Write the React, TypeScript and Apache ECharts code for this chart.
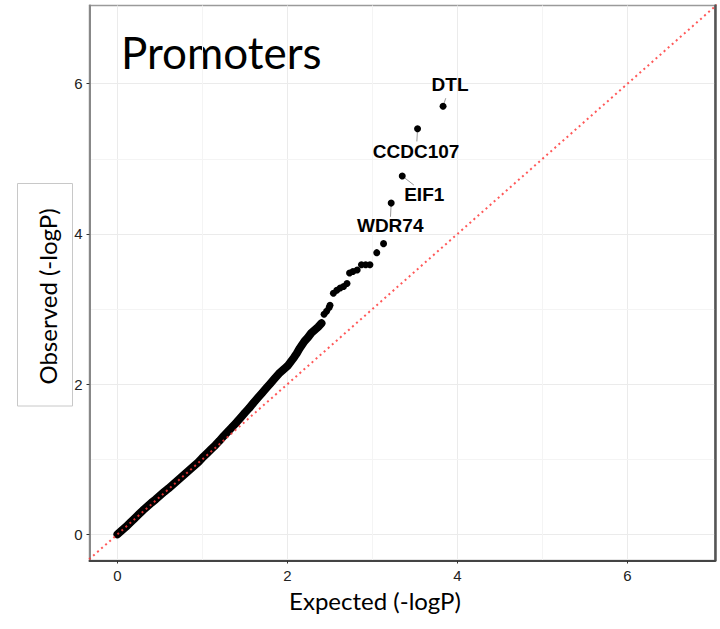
import React, { useEffect, useRef } from "react";
import * as echarts from "echarts";

// Expected vs observed -log10(P)
const expected = [
  0.0, 0.05, 0.1, 0.15, 0.2, 0.25, 0.3, 0.35, 0.4, 0.45, 0.5, 0.55, 0.6, 0.65, 0.7, 0.75,
  0.8, 0.85, 0.9, 0.95, 1.0, 1.05, 1.1, 1.15, 1.2, 1.25, 1.3, 1.35, 1.4, 1.45, 1.5, 1.55,
  1.6, 1.65, 1.7, 1.75, 1.8, 1.85, 1.9, 1.95, 2.0, 2.04, 2.08, 2.11, 2.14, 2.17, 2.2, 2.24,
  2.28, 2.32, 2.36, 2.4, 2.43, 2.46, 2.49, 2.5, 2.54, 2.58, 2.62, 2.66, 2.7, 2.73, 2.77,
  2.82, 2.87, 2.92, 2.97, 3.05, 3.13,
];
const observed = [
  0.0, 0.05, 0.1, 0.155, 0.21, 0.265, 0.32, 0.37, 0.42, 0.465, 0.515, 0.565, 0.61, 0.66,
  0.71, 0.76, 0.81, 0.86, 0.91, 0.96, 1.02, 1.075, 1.13, 1.185, 1.245, 1.31, 1.37, 1.43,
  1.49, 1.555, 1.62, 1.68, 1.75, 1.815, 1.88, 1.945, 2.01, 2.075, 2.14, 2.19, 2.24, 2.3,
  2.36, 2.41, 2.47, 2.52, 2.57, 2.62, 2.68, 2.72, 2.76, 2.81, 2.93, 2.97, 3.02, 3.05, 3.21,
  3.25, 3.28, 3.3, 3.34, 3.48, 3.5, 3.52, 3.59, 3.59, 3.59, 3.75, 3.87,
];
// the first points overlap into one continuous band (up to expected = 2.40)
const denseBandCount = 52;

// Labelled top hits
const labeledGenes = ["DTL", "CCDC107", "EIF1", "WDR74"];
const labeledExpected = [3.83, 3.53, 3.35, 3.22];
const labeledObserved = [5.7, 5.4, 4.77, 4.41];

// Axes
const majorTicks = [0, 2, 4, 6];
const minorTicks = [1, 3, 5];
const xRange = [-0.329, 7.029];
const yRange = [-0.349, 7.041];
const refLineEnds = [-1, 8];

const titleText = "Promoters";
const xTitle = "Expected (-logP)";
const yTitle = "Observed (-logP)";

// label placement (px, relative to the point), like ggrepel
const labelOffsets: [number, number][] = [
  [7, -21.5],
  [-1.4, 23],
  [22, 18],
  [-1, 22.5],
];
const segmentEnds: [number, number][] = [
  [2.7, -8],
  [-0.7, 12.7],
  [11.6, 9],
  [-0.7, 13.7],
];

export default function App() {
  const ref = useRef<HTMLDivElement>(null);

  useEffect(() => {
    if (!ref.current) return;
    const chart = echarts.init(ref.current, null, { renderer: "svg" });

    const mainData = expected.map((e, i) => [e, observed[i]]);
    const bandData = mainData.slice(0, denseBandCount);
    const labeledData = labeledGenes.map((g, i) => [labeledExpected[i], labeledObserved[i]]);

    const gridMarkData: any[] = [];
    majorTicks.forEach((v) => {
      gridMarkData.push({ xAxis: v, lineStyle: { color: "#ebebeb" } });
      gridMarkData.push({ yAxis: v, lineStyle: { color: "#ebebeb" } });
    });
    minorTicks.forEach((v) => {
      gridMarkData.push({ xAxis: v, lineStyle: { color: "#f4f4f4" } });
      gridMarkData.push({ yAxis: v, lineStyle: { color: "#f4f4f4" } });
    });

    const tickLabel = {
      color: "#222",
      fontFamily: "Liberation Sans",
      fontSize: 15,
    };

    const option: any = {
      animation: false,
      backgroundColor: "#ffffff",
      grid: {
        left: 89.5,
        right: 5,
        top: 5.5,
        bottom: 68.5,
        show: true,
        borderColor: "#9a9a9a",
        borderWidth: 1.5,
        backgroundColor: "#ffffff",
      },
      xAxis: {
        type: "value",
        min: xRange[0],
        max: xRange[1],
        axisLine: { show: true, onZero: false, lineStyle: { color: "#444", width: 2 } },
        axisTick: {
          show: true,
          customValues: majorTicks,
          length: 3,
          lineStyle: { color: "#333", width: 1 },
        },
        axisLabel: { customValues: majorTicks, margin: 7, ...tickLabel },
        splitLine: { show: false },
      },
      yAxis: [
        {
          type: "value",
          min: yRange[0],
          max: yRange[1],
          position: "left",
          axisLine: { show: true, onZero: false, lineStyle: { color: "#888", width: 2 } },
          axisTick: {
            show: true,
            customValues: majorTicks,
            length: 3,
            lineStyle: { color: "#333", width: 1 },
          },
          axisLabel: { customValues: majorTicks, margin: 7, ...tickLabel },
          splitLine: { show: false },
        },
        {
          type: "value",
          min: yRange[0],
          max: yRange[1],
          position: "right",
          axisLine: { show: true, onZero: false, lineStyle: { color: "#555", width: 2.5 } },
          axisTick: { show: false },
          axisLabel: { show: false },
          splitLine: { show: false },
        },
      ],
      series: [
        {
          type: "scatter",
          data: [],
          z: 0,
          silent: true,
          markLine: {
            z: 0,
            silent: true,
            symbol: "none",
            label: { show: false },
            lineStyle: { type: "solid", width: 1 },
            data: gridMarkData,
          },
        },
        {
          type: "line",
          data: bandData,
          showSymbol: false,
          symbol: "none",
          z: 2,
          silent: true,
          lineStyle: { color: "#000", width: 8, cap: "round", join: "round", opacity: 1 },
        },
        {
          type: "scatter",
          data: mainData,
          symbol: "circle",
          symbolSize: 7,
          itemStyle: { color: "#000", opacity: 1 },
          z: 2,
          silent: true,
        },
        {
          type: "custom",
          data: labeledData,
          z: 3,
          silent: true,
          encode: { x: 0, y: 1 },
          renderItem: (params: any, api: any) => {
            const i = params.dataIndex;
            const pt = api.coord([api.value(0), api.value(1)]);
            return {
              type: "group",
              children: [
                {
                  type: "line",
                  shape: {
                    x1: pt[0],
                    y1: pt[1],
                    x2: pt[0] + segmentEnds[i][0],
                    y2: pt[1] + segmentEnds[i][1],
                  },
                  style: { stroke: "#9a9a9a", lineWidth: 1 },
                },
                {
                  type: "circle",
                  shape: { cx: pt[0], cy: pt[1], r: 3.5 },
                  style: { fill: "#000" },
                },
                {
                  type: "text",
                  x: pt[0] + labelOffsets[i][0],
                  y: pt[1] + labelOffsets[i][1],
                  style: {
                    text: labeledGenes[i],
                    fontFamily: "Liberation Sans",
                    fontWeight: "bold",
                    fontSize: 19,
                    fill: "#000",
                    align: "center",
                    verticalAlign: "middle",
                    textAlign: "center",
                    textVerticalAlign: "middle",
                  },
                },
              ],
            };
          },
        },
        {
          type: "line",
          data: [
            [refLineEnds[0], refLineEnds[0]],
            [refLineEnds[1], refLineEnds[1]],
          ],
          showSymbol: false,
          symbol: "none",
          clip: true,
          z: 5,
          silent: true,
          lineStyle: { color: "#ff3b3b", width: 2, type: [2, 3.4], opacity: 0.85 },
        },
      ],
      graphic: [
        {
          type: "text",
          left: 121,
          top: 30,
          style: {
            text: titleText,
            fontFamily: "Lato",
            fontSize: 44,
            fill: "#000",
          },
        },
        {
          type: "text",
          x: 375,
          y: 600,
          style: {
            text: xTitle,
            fontFamily: "Lato",
            fontSize: 24,
            fill: "#000",
            align: "center",
            verticalAlign: "middle",
          },
        },
        {
          type: "rect",
          shape: { x: 17.5, y: 183.5, width: 55, height: 222.5 },
          style: { fill: "#fff", stroke: "#c8c8c8", lineWidth: 1 },
        },
        {
          type: "text",
          x: 47,
          y: 296.5,
          rotation: Math.PI / 2,
          style: {
            text: yTitle,
            fontFamily: "Lato",
            fontSize: 24,
            fill: "#000",
            align: "center",
            verticalAlign: "middle",
          },
        },
      ],
    };

    chart.setOption(option);
    return () => {
      chart.dispose();
    };
  }, []);

  return (
    <div
      ref={ref}
      style={{ position: "absolute", left: 0, top: 0, width: 720, height: 629 }}
    />
  );
}
